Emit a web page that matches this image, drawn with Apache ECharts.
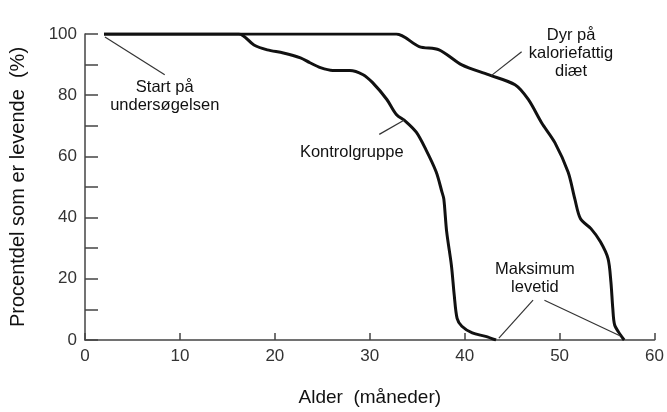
<!DOCTYPE html>
<html><head><meta charset="utf-8">
<script src="https://cdn.jsdelivr.net/npm/echarts@6/dist/echarts.min.js"></script>
<style>html,body{margin:0;padding:0;background:#fff}#c{width:667px;height:412px}</style>
</head><body><div id="c"></div>
<script>
const controlX = [2, 16.2, 17.8, 19.2, 20.9, 22.7, 23.7, 24.8, 26.1, 27.9, 29.3, 30.3, 31.8, 32.8, 33.8, 34.9, 35.9, 37.0, 37.6, 37.8, 38.1, 38.6, 38.9, 39.2, 39.7, 40.8, 42.2, 43.3];
const controlY = [100, 100, 96.4, 94.8, 93.8, 92.2, 90.6, 89.0, 88.1, 88.1, 86.7, 84.1, 78.6, 73.7, 71.4, 67.9, 62.3, 54.9, 48.4, 46.1, 35.4, 24.4, 14.6, 7.1, 4.5, 2.3, 1.2, 0];
const dietX = [2, 32.8, 35.2, 37.3, 39.7, 42.5, 45.3, 46.7, 48.1, 49.5, 50.9, 51.6, 52.2, 53.3, 54.3, 55.1, 55.4, 55.6, 55.8, 56.4, 56.8];
const dietY = [100, 100, 95.9, 94.8, 89.9, 86.7, 83.4, 78.6, 71.0, 64.5, 54.8, 46.1, 39.6, 36.4, 32.1, 26.6, 19.1, 10.4, 4.9, 1.7, 0];
const xTicks = [0, 10, 20, 30, 40, 50, 60];
const yTicks = [0, 20, 40, 60, 80, 100];
const labels = [
  {text: 'Start på\nundersøgelsen', x: 8.4, y: 79.5},
  {text: 'Kontrolgruppe', x: 28.1, y: 61.4},
  {text: 'Dyr på\nkaloriefattig\ndiæt', x: 51.2, y: 93.8},
  {text: 'Maksimum\nlevetid', x: 47.4, y: 20}
];
const leaders = [
  [[2.1, 99], [8.4, 86.7]],
  [[31.0, 67.2], [33.6, 71.8]],
  [[42.8, 86.4], [46.0, 94.2]],
  [[43.6, 0.6], [47.2, 13]],
  [[48.4, 13], [56.4, 1.3]]
];
const FONT = 'Liberation Sans, Arial, sans-serif';
const zip = (a, b) => a.map((v, i) => [v, b[i]]);
const chart = echarts.init(document.getElementById('c'));
chart.setOption({
  animation: false,
  grid: {left: 83, right: 10, top: 34, bottom: 70},
  xAxis: {
    type: 'value', min: 0, max: 60, interval: 10,
    name: 'Alder  (måneder)', nameLocation: 'middle', nameGap: 48,
    nameTextStyle: {fontSize: 19, color: '#111', fontFamily: FONT},
    axisLine: {lineStyle: {color: '#444', width: 1.5}},
    axisTick: {inside: true, length: 7, lineStyle: {color: '#444', width: 1.5}},
    axisLabel: {fontSize: 17, color: '#333', fontFamily: FONT, margin: 8,
      formatter: v => xTicks.includes(v) ? String(v) : ''},
    splitLine: {show: false}
  },
  yAxis: {
    type: 'value', min: 0, max: 100, interval: 10,
    name: 'Procentdel som er levende  (%)', nameLocation: 'middle', nameGap: 57,
    nameTextStyle: {fontSize: 20, color: '#111', fontFamily: FONT},
    axisLine: {show: true, lineStyle: {color: '#444', width: 1.5}},
    axisTick: {show: true, inside: true, length: 13, lineStyle: {color: '#444', width: 1.5}},
    axisLabel: {fontSize: 17, color: '#333', fontFamily: FONT, margin: 8,
      formatter: v => yTicks.includes(v) ? String(v) : ''},
    splitLine: {show: false}
  },
  series: [
    {type: 'line', data: zip(controlX, controlY), smooth: 0.3, showSymbol: false,
     lineStyle: {color: '#111', width: 3}},
    {type: 'line', data: zip(dietX, dietY), smooth: 0.3, showSymbol: false,
     lineStyle: {color: '#111', width: 3},
     markLine: {silent: true, symbol: ['none', 'none'], label: {show: false},
       lineStyle: {color: '#333', width: 1.2, type: 'solid'},
       data: leaders.map(l => [{coord: l[0]}, {coord: l[1]}])},
     markPoint: {silent: true, symbol: 'circle', symbolSize: 0,
       label: {show: true, position: 'inside', color: '#111', fontSize: 16.5, lineHeight: 18,
         fontFamily: FONT, align: 'center', formatter: p => p.name},
       data: labels.map(l => ({name: l.text, coord: [l.x, l.y]}))}
    }
  ]
});
</script></body></html>
